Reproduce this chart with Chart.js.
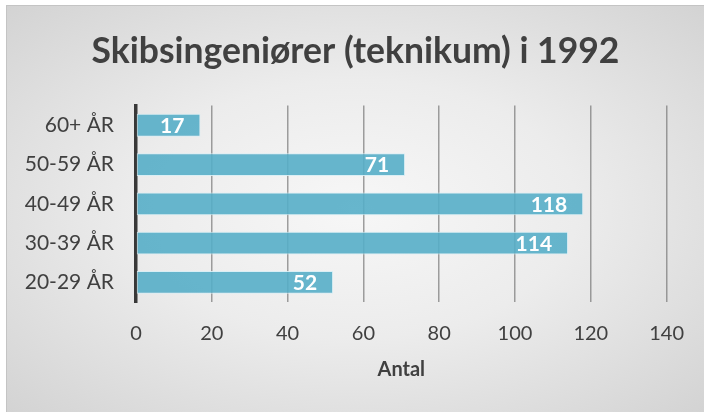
<!DOCTYPE html>
<html>
<head>
<meta charset="utf-8">
<script src="https://cdn.jsdelivr.net/npm/chart.js@4"></script>
<style>
    body { margin: 0; background: #ffffff; }
    #frame {
        position: absolute; left: 6px; top: 5px; width: 698px; height: 407px;
        box-sizing: border-box; border-left: 1px solid #c4c4c4; border-top: 1px solid #c4c4c4;
        background: radial-gradient(ellipse at center, #f7f7f7 0%, #ececec 45%, #d3d3d3 100%);
    }
    #chart { position: absolute; left: 0; top: 0; }
</style>
</head>
<body>
<div id="frame"><canvas id="chart" width="697" height="406"></canvas></div>
<script>
// Chart data
const categories = ['60+ ÅR', '50-59 ÅR', '40-49 ÅR', '30-39 ÅR', '20-29 ÅR'];
const values = [17, 71, 118, 114, 52];
const xTicks = [0, 20, 40, 60, 80, 100, 120, 140];

const FONT = 'Lato, "Open Sans", sans-serif';
const textColor = '#404040';

// Draw value labels inside the end of each bar
const barLabels = {
    id: 'barLabels',
    afterDatasetsDraw(chart) {
        const ctx = chart.ctx;
        const meta = chart.getDatasetMeta(0);
        ctx.save();
        ctx.font = 'bold 21px ' + FONT;
        ctx.fillStyle = '#ffffff';
        ctx.textAlign = 'right';
        ctx.textBaseline = 'middle';
        meta.data.forEach((bar, i) => {
            ctx.fillText(String(values[i]), bar.x - 16, bar.y + 1);
        });
        ctx.restore();
    }
};

new Chart(document.getElementById('chart'), {
    type: 'bar',
    data: {
        labels: categories,
        datasets: [{
            label: 'Antal',
            data: values,
            backgroundColor: 'rgba(86, 174, 200, 0.9)',
            borderColor: 'rgba(215, 238, 245, 0.9)',
            borderWidth: 1,
            borderSkipped: false,
            barPercentage: 0.58,
            categoryPercentage: 1
        }]
    },
    options: {
        indexAxis: 'y',
        responsive: false,
        animation: false,
        layout: { padding: 0 },
        plugins: {
            legend: { display: false },
            tooltip: { enabled: false },
            title: {
                display: true,
                text: 'Skibsingeniører (teknikum) i 1992',
                color: textColor,
                font: { family: FONT, size: 35.5, weight: 'bold' },
                padding: { top: 24, bottom: 33 }
            }
        },
        scales: {
            x: {
                min: 0,
                max: 140,
                afterBuildTicks: (axis) => { axis.ticks = xTicks.map(v => ({ value: v })); },
                afterFit: (axis) => { axis.height = 110; },
                grid: { color: 'rgba(120, 120, 120, 0.7)', lineWidth: 1.5, drawTicks: false },
                border: { display: false },
                ticks: { color: textColor, padding: 20, font: { family: FONT, size: 20 } },
                title: {
                    display: true,
                    text: 'Antal',
                    color: textColor,
                    font: { family: FONT, size: 20, weight: 'bold' },
                    padding: { top: 0, bottom: 30 }
                }
            },
            y: {
                afterFit: (axis) => { axis.width = 129; },
                grid: { display: false, drawTicks: false },
                border: { display: true, color: '#383838', width: 3.5 },
                ticks: { color: textColor, padding: 22, font: { family: FONT, size: 21 } }
            },
            // empty right-hand spacer so the title stays centred on the whole frame
            yRight: {
                position: 'right',
                afterFit: (axis) => { axis.width = 36; },
                grid: { display: false, drawTicks: false },
                border: { display: false },
                ticks: { display: false }
            }
        }
    },
    plugins: [barLabels]
});
</script>
</body>
</html>
